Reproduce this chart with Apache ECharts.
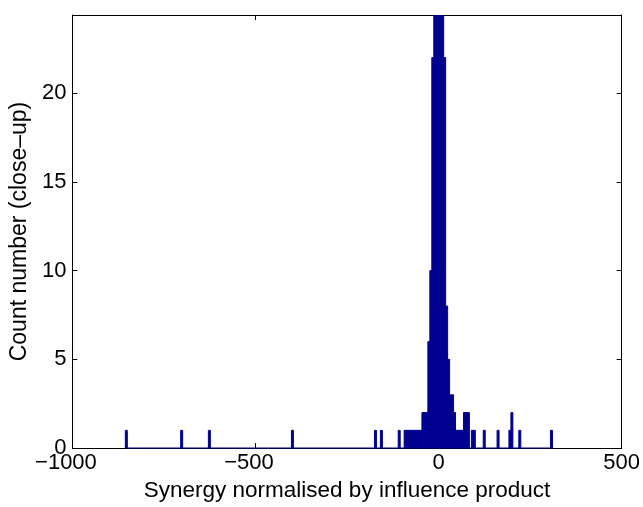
<!DOCTYPE html>
<html>
<head>
<meta charset="utf-8">
<script src="https://cdn.jsdelivr.net/npm/echarts@6/dist/echarts.min.js"></script>
<style>
html,body{margin:0;padding:0;background:#fff;}
#chart{width:643px;height:507px;}
</style>
</head>
<body>
<div id="chart"></div>
<script>
// Histogram bins (left edge of each non-empty bin) and their counts
const binWidth = 5.4;
const binLeft = [
  -855.4, -704.2, -628.6, -401.8, -175.0, -158.8, -110.2,
  -94.0, -88.6, -83.2, -77.8, -72.4, -67.0, -61.6, -56.2, -50.8,
  -45.4, -40.0, -34.6, -29.2, -23.8, -18.4,
  -13.0, -7.6, -2.2, 3.2, 8.6,
  14.0, 19.4, 24.8, 30.2, 35.6, 41.0,
  46.4, 51.8, 57.2, 62.6, 68.0, 73.4, 78.8,
  89.6, 95.0, 122.0, 159.8, 192.2, 197.6, 219.2, 305.6
];
const binCount = [
  1, 1, 1, 1, 1, 1, 1,
  1, 1, 1, 1, 1, 1, 1, 1, 1,
  2, 2, 2, 6, 10, 22,
  34, 52, 61, 47, 31,
  22, 8, 5, 3, 3, 2,
  1, 1, 1, 1, 2, 2, 2,
  1, 1, 1, 1, 1, 2, 1, 1
];
const xTicks = [-1000, -500, 0, 500];
const yTicks = [0, 5, 10, 15, 20];
const xRange = [-1000, 500];
const yRange = [0, 24.4];

const barColor = '#00008f';
const fontFamily = 'Liberation Sans, Arial, sans-serif';
const tickFont = 22;
const minusWidth = 0.584 * tickFont;

const histData = binLeft.map((x, i) => [x, binCount[i]]);
const baseLine = [[binLeft[0], 0], [binLeft[binLeft.length - 1] + binWidth, 0]];

// digits centred on the tick, minus sign hanging to the left (as in the original)
const fmtX = v => (v < 0 ? '\u2212' + Math.abs(v) + '{p|}' : String(v));

const chart = echarts.init(document.getElementById('chart'), null, {renderer: 'canvas'});

const axisCommon = {
  axisLine: {show: true, onZero: false, lineStyle: {color: '#000', width: 1}},
  axisTick: {show: true, inside: true, length: 5, lineStyle: {color: '#000', width: 1}},
  splitLine: {show: false}
};

chart.setOption({
  animation: false,
  backgroundColor: '#fff',
  grid: {left: 68, right: 19, top: 15, bottom: 52, containLabel: false},
  xAxis: [
    Object.assign({
      type: 'value', position: 'bottom',
      min: xRange[0], max: xRange[1], interval: xTicks[1] - xTicks[0],
      axisLabel: {color: '#000', fontSize: tickFont, fontFamily: fontFamily, margin: 4, formatter: fmtX,
        rich: {p: {width: minusWidth, fontSize: tickFont}}},
      name: 'Synergy normalised by influence product',
      nameLocation: 'middle', nameGap: 27,
      nameTextStyle: {color: '#000', fontSize: 22.5, fontFamily: fontFamily}
    }, axisCommon),
    Object.assign({
      type: 'value', position: 'top',
      min: xRange[0], max: xRange[1], interval: xTicks[1] - xTicks[0],
      axisLabel: {show: false}
    }, axisCommon)
  ],
  yAxis: [
    Object.assign({
      type: 'value', position: 'left',
      min: yRange[0], max: yRange[1], interval: yTicks[1] - yTicks[0],
      axisLabel: {color: '#000', fontSize: tickFont, fontFamily: fontFamily, margin: 6, showMaxLabel: false,
        formatter: v => (yTicks.indexOf(v) >= 0 ? String(v) : '')},
      name: 'Count number (close\u2013up)',
      nameLocation: 'middle', nameGap: 30,
      nameTextStyle: {color: '#000', fontSize: 23, fontFamily: fontFamily}
    }, axisCommon),
    Object.assign({
      type: 'value', position: 'right',
      min: yRange[0], max: yRange[1], interval: yTicks[1] - yTicks[0],
      axisLabel: {show: false}
    }, axisCommon)
  ],
  series: [
    {
      type: 'line',
      xAxisIndex: 0, yAxisIndex: 0,
      data: baseLine,
      symbol: 'none',
      lineStyle: {color: barColor, width: 1.2},
      z: 3
    },
    {
      type: 'custom',
      xAxisIndex: 0, yAxisIndex: 0,
      clip: true,
      data: histData,
      encode: {x: 0, y: 1},
      renderItem: function (params, api) {
        const x0 = api.value(0);
        const h = api.value(1);
        const pTop = api.coord([x0, h]);
        const pBot = api.coord([x0 + binWidth, 0]);
        return {
          type: 'rect',
          shape: {x: pTop[0], y: pTop[1], width: pBot[0] - pTop[0], height: pBot[1] - pTop[1]},
          style: {fill: barColor, stroke: barColor, lineWidth: 1}
        };
      },
      z: 4
    }
  ]
});
</script>
</body>
</html>
